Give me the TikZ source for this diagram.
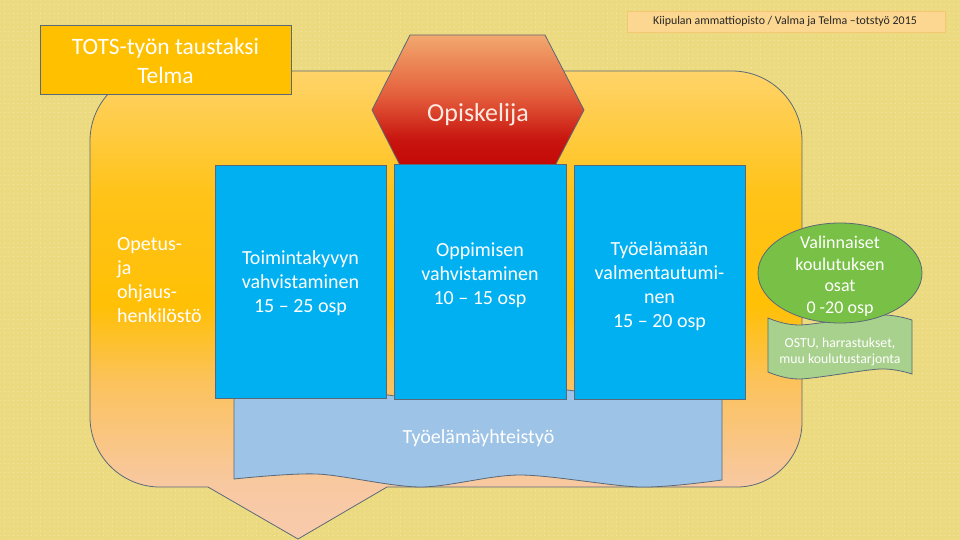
\documentclass[tikz,border=0pt]{standalone}
\usepackage{fontspec}
\setmainfont{Carlito}
\usetikzlibrary{shapes.geometric,patterns.meta}
\definecolor{bgc}{RGB}{236,218,128}
\definecolor{dotc}{RGB}{244,232,170}
\definecolor{edgec}{RGB}{90,105,120}
\definecolor{cA}{RGB}{255,211,105}
\definecolor{cB}{RGB}{255,195,25}
\definecolor{cC}{RGB}{255,192,5}
\definecolor{cD}{RGB}{252,194,90}
\definecolor{cE}{RGB}{248,200,160}
\definecolor{cF}{RGB}{248,203,173}
\definecolor{boxblue}{RGB}{0,176,240}
\definecolor{lblue}{RGB}{157,195,230}
\definecolor{gell}{RGB}{120,192,70}
\definecolor{lgreen}{RGB}{169,209,142}
\definecolor{gold}{RGB}{255,192,0}
\definecolor{hA}{RGB}{242,168,110}
\definecolor{hB}{RGB}{228,95,60}
\definecolor{hC}{RGB}{200,20,15}
\definecolor{hD}{RGB}{192,0,0}
\definecolor{hdrfill}{RGB}{252,215,145}
\definecolor{hdredge}{RGB}{245,198,115}
\definecolor{hdrtext}{RGB}{38,38,38}
\definecolor{optext}{RGB}{253,233,224}
\pgfdeclareverticalshading{callsh}{100bp}{color(0bp)=(cF); color(25bp)=(cF); color(31bp)=(cE); color(42bp)=(cD); color(50bp)=(cC); color(62bp)=(cB); color(75bp)=(cA); color(100bp)=(cA)}
\pgfdeclareverticalshading{hexsh}{100bp}{color(0bp)=(hD); color(25bp)=(hD); color(40bp)=(hC); color(55bp)=(hB); color(75bp)=(hA); color(100bp)=(hA)}
\begin{document}
\begin{tikzpicture}[x=1pt,y=-1pt,
  edge/.style={draw=edgec, line width=0.8pt},
  bluebox/.style={edge, fill=boxblue, inner sep=0pt},
  boxtext/.style={text=white, align=center, inner sep=0pt, font=\fontsize{20}{24}\selectfont},
  ]
\useasboundingbox (0,0) rectangle (960,540);
% background
\fill[bgc] (0,0) rectangle (960,540);
\fill[pattern={Dots[distance=4.5pt,radius=0.55pt]}, pattern color=dotc] (0,0) rectangle (960,540);
% callout
\path[edge, shading=callsh]
  (160,71) -- (732,71) .. controls (770.7,71) and (802,102.3) .. (802,141)
  -- (802,422) .. controls (802,457.9) and (772.9,487) .. (737,487)
  -- (387,487) -- (298,539) -- (208,487)
  -- (160,487) .. controls (121.3,487) and (90,455.7) .. (90,417)
  -- (90,141) .. controls (90,102.3) and (121.3,71) .. (160,71) -- cycle;
% work-life cooperation wave
\path[edge, fill=lblue]
  plot[smooth] coordinates {(234,390) (317,385) (420,398) (520,386) (640,398) (722,391)}
  -- plot[smooth] coordinates {(722,480) (640,487) (520,475) (420,487) (317,474) (234,479)} -- cycle;
\node[boxtext] (coop) at (478.5,438) {Työelämäyhteistyö};
% hexagon
\path[edge, shading=hexsh]
  (410,35) -- (545,35) -- (584,110) -- (545,185) -- (410,185) -- (372,110) -- cycle;
\node[text=optext, inner sep=0pt, font=\fontsize{26}{30}\selectfont] (student) at (478,115) {Opiskelija};
% blue boxes
\node[bluebox, minimum width=171pt, minimum height=233pt] (b1) at (300.5,281.5) {};
\node[bluebox, minimum width=172pt, minimum height=235pt] (b2) at (480,281.5) {};
\node[bluebox, minimum width=171pt, minimum height=234pt] (b3) at (659.5,282) {};
\node[boxtext] (t1) at (300.5,283.5) {Toimintakyvyn\\vahvistaminen\\15 – 25 osp};
\node[boxtext] (t2) at (480,275.5) {Oppimisen\\vahvistaminen\\10 – 15 osp};
\node[boxtext] (t3) at (659.5,286.5) {Työelämään\\valmentautumi-\\nen\\15 – 20 osp};
% staff text
\node[text=white, align=left, inner sep=0pt, anchor=west, font=\fontsize{20}{24}\selectfont] (staff) at (117,280) {Opetus-\\ja\\ohjaus-\\henkilöstö};
% optional studies
\path[edge, fill=lgreen]
  plot[smooth] coordinates {(768,318) (800,325) (880,315) (912,320)}
  -- plot[smooth] coordinates {(912,374) (880,369) (800,379) (768,372)} -- cycle;
\node[text=white, align=center, inner sep=0pt, font=\fontsize{13.8}{16}\selectfont] (ostu) at (840,352) {OSTU, harrastukset,\\muu koulutustarjonta};
\node[ellipse, edge, fill=gell, minimum width=164pt, minimum height=100pt, inner sep=0pt] (opt) at (840,273) {};
\node[text=white, align=center, inner sep=0pt, font=\fontsize{18}{21.5}\selectfont] (optt) at (840,276) {Valinnaiset\\koulutuksen\\osat\\0 -20 osp};
% title
\node[edge, fill=gold, minimum width=251pt, minimum height=69pt, inner sep=0pt] (titlebox) at (165.5,59.5) {};
\node[text=white, align=center, inner sep=0pt, font=\fontsize{23.5}{28.5}\selectfont] (title) at (165.5,61) {TOTS-työn taustaksi\\Telma};
% header
\node[draw=hdredge, fill=hdrfill, minimum width=318pt, minimum height=21pt, inner sep=0pt] (hdr) at (786,21.5) {};
\node[text=hdrtext, inner sep=0pt, font=\fontsize{11.9}{13}\selectfont] (hdrt) at (785,21.5) {Kiipulan ammattiopisto / Valma ja Telma –totstyö 2015};
\end{tikzpicture}
\end{document}
